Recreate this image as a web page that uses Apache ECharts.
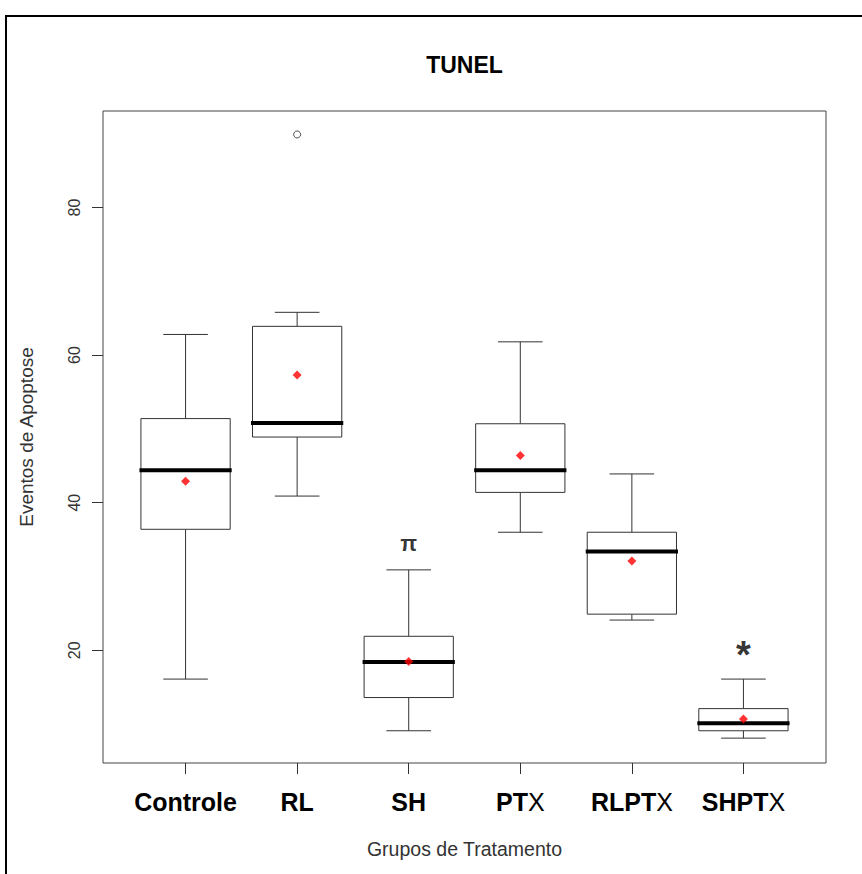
<!DOCTYPE html>
<html>
<head>
<meta charset="utf-8">
<script src="https://cdn.jsdelivr.net/npm/echarts@6/dist/echarts.min.js"></script>
<style>html,body{margin:0;padding:0;background:#fff}#c{width:862px;height:874px}</style>
</head>
<body>
<div id="c"></div>
<script>
const categories = ['Controle', 'RL', 'SH', 'PTX', 'RLPTX', 'SHPTX'];
const whiskerLow  = [16.1, 40.9,  9.1, 36.0, 24.1,  8.1];
const q1          = [36.4, 48.9, 13.6, 41.4, 24.9,  9.1];
const median      = [44.4, 50.8, 18.4, 44.4, 33.4, 10.1];
const q3          = [51.4, 63.9, 21.9, 50.7, 36.0, 12.1];
const whiskerHigh = [62.8, 65.8, 30.9, 61.8, 43.9, 16.1];
const means       = [42.9, 57.3, 18.5, 46.4, 32.1, 10.7];
const outlierGroup = [2];
const outlierValue = [89.9];
const annotationGroup = [3, 6];
const annotationValue = [34.5, 20.4];
const annotationText  = ['π', '*'];
const yTicks = [20, 40, 60, 80];
const xTicks = [1, 2, 3, 4, 5, 6];

const FONT = 'Liberation Sans, Arial, sans-serif';
const chart = echarts.init(document.getElementById('c'), null, {renderer: 'svg'});

const boxData = categories.map((c, i) => [i + 1, whiskerLow[i], q1[i], median[i], q3[i], whiskerHigh[i]]);

function renderBox(params, api) {
  const x = api.value(0);
  const cx = api.coord([x, 0])[0];
  const y = v => api.coord([x, v])[1];
  const hb = api.size([0.4, 0])[0];
  const hc = api.size([0.2, 0])[0];
  const yLow = y(api.value(1)), yQ1 = y(api.value(2)), yMed = y(api.value(3)),
        yQ3 = y(api.value(4)), yHigh = y(api.value(5));
  const ls = {stroke: '#333', lineWidth: 1, fill: null};
  return {
    type: 'group',
    children: [
      {type: 'line', shape: {x1: cx, y1: yLow, x2: cx, y2: yQ1}, style: ls},
      {type: 'line', shape: {x1: cx - hc, y1: yLow, x2: cx + hc, y2: yLow}, style: ls},
      {type: 'line', shape: {x1: cx, y1: yQ3, x2: cx, y2: yHigh}, style: ls},
      {type: 'line', shape: {x1: cx - hc, y1: yHigh, x2: cx + hc, y2: yHigh}, style: ls},
      {type: 'rect', shape: {x: cx - hb, y: yQ3, width: 2 * hb, height: yQ1 - yQ3}, style: {stroke: '#333', lineWidth: 1, fill: '#fff'}},
      {type: 'line', shape: {x1: cx - hb - 1.5, y1: yMed, x2: cx + hb + 1.5, y2: yMed}, style: {stroke: '#000', lineWidth: 4}}
    ]
  };
}

const option = {
  animation: false,
  backgroundColor: '#fff',
  textStyle: {fontFamily: FONT},
  title: {
    text: 'TUNEL', left: 464.5, top: 53, textAlign: 'center', padding: 0,
    textStyle: {fontSize: 23, fontWeight: 'bold', color: '#000', fontFamily: FONT}
  },
  graphic: [{
    type: 'rect', z: -1, silent: true,
    shape: {x: 6, y: 16, width: 1000, height: 1000},
    style: {fill: null, stroke: '#000', lineWidth: 2}
  }],
  grid: {left: 103, right: 36, top: 111, bottom: 111, show: true, borderColor: '#444', borderWidth: 1, backgroundColor: 'transparent'},
  xAxis: {
    type: 'value', min: 0.26, max: 6.74,
    name: 'Grupos de Tratamento', nameLocation: 'middle', nameGap: 76,
    nameTextStyle: {fontSize: 19.5, color: '#333', fontFamily: FONT},
    axisLine: {show: false},
    splitLine: {show: false},
    axisTick: {show: true, length: 11, customValues: xTicks, lineStyle: {color: '#333'}},
    axisLabel: {
      customValues: xTicks, margin: 26,
      formatter: v => {
        const name = categories[Math.round(v) - 1] || '';
        if (name.length > 1 && name.endsWith('X')) return '{b|' + name.slice(0, -1) + '}{n|X}';
        return '{b|' + name + '}';
      },
      rich: {
        b: {fontSize: 25, fontWeight: 'bold', color: '#000', fontFamily: FONT},
        n: {fontSize: 25, fontWeight: 'normal', color: '#000', fontFamily: FONT}
      }
    }
  },
  yAxis: {
    type: 'value', min: 4.73, max: 93.08,
    name: 'Eventos de Apoptose', nameLocation: 'middle', nameGap: 67, nameRotate: 90,
    nameTextStyle: {fontSize: 19, color: '#333', fontFamily: FONT},
    axisLine: {show: false},
    splitLine: {show: false},
    axisTick: {show: true, length: 11, customValues: yTicks, lineStyle: {color: '#333'}},
    axisLabel: {customValues: yTicks, rotate: 90, margin: 21, fontSize: 16, color: '#333', fontFamily: FONT}
  },
  series: [
    {
      type: 'custom', name: 'box', renderItem: renderBox, data: boxData,
      encode: {x: 0, y: [1, 2, 3, 4, 5]}, z: 2
    },
    {
      type: 'scatter', name: 'mean', data: categories.map((c, i) => [i + 1, means[i]]),
      symbol: 'diamond', symbolSize: 9, itemStyle: {color: '#ff0000'}, z: 5
    },
    {
      type: 'scatter', name: 'outlier', data: outlierGroup.map((g, i) => [g, outlierValue[i]]),
      symbol: 'circle', symbolSize: 7, itemStyle: {color: '#fff', borderColor: '#222', borderWidth: 1}, z: 5
    },
    {
      type: 'scatter', name: 'annotation',
      data: annotationGroup.map((g, i) => ({
        value: [g, annotationValue[i], annotationText[i]],
        label: annotationText[i] === '*' ? {fontSize: 38, offset: [0, 8]} : {fontSize: 22}
      })),
      symbolSize: 0,
      label: {show: true, position: 'inside', formatter: p => p.value[2], fontWeight: 'bold', color: '#000', fontFamily: FONT},
      z: 6
    }
  ]
};
chart.setOption(option);
</script>
</body>
</html>
